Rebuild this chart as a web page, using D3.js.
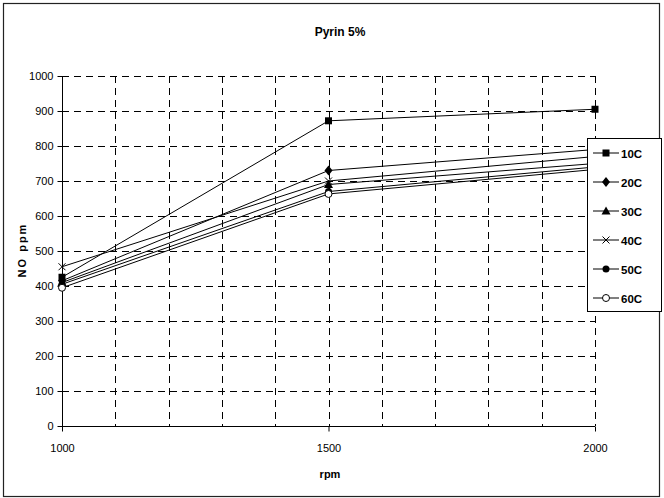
<!DOCTYPE html>
<html>
<head>
<meta charset="utf-8">
<script src="https://cdn.jsdelivr.net/npm/d3@7"></script>
<style>
  html, body { margin: 0; padding: 0; background: #fff; }
  svg { display: block; font-family: "Liberation Sans", Arial, sans-serif; }
</style>
</head>
<body>
<svg id="chart" width="664" height="498"></svg>
<script>
// NO emissions (ppm) versus engine speed, one series per temperature
const rpm = [1000, 1500, 2000];
const seriesNames = ["10C", "20C", "30C", "40C", "50C", "60C"];
const no10C = [425, 872, 905];
const no20C = [415, 730, 790];
const no30C = [410, 690, 750];
const no40C = [455, 700, 770];
const no50C = [405, 670, 740];
const no60C = [395, 663, 733];
const yTicks = [0, 100, 200, 300, 400, 500, 600, 700, 800, 900, 1000];
const xGrid = [1000, 1100, 1200, 1300, 1400, 1500, 1600, 1700, 1800, 1900, 2000];
const xLabels = [1000, 1500, 2000];
const markers = ["square", "diamond", "triangle", "cross", "dot", "ring"];

const FONT = "'Liberation Sans', Arial, sans-serif";

const series = seriesNames.map((name, i) => ({
  name,
  marker: markers[i],
  values: [no10C, no20C, no30C, no40C, no50C, no60C][i]
}));

const svg = d3.select("#chart");

// outer chart frame
svg.append("rect")
  .attr("x", 3.5).attr("y", 3.5).attr("width", 656).attr("height", 493)
  .attr("fill", "#fff").attr("stroke", "#222").attr("stroke-width", 1.2);

const plot = { left: 62, right: 595, top: 76, bottom: 426 };
const x = d3.scaleLinear().domain([1000, 2000]).range([plot.left, plot.right]);
const y = d3.scaleLinear().domain([0, 1000]).range([plot.bottom, plot.top]);

// dashed grid
const grid = svg.append("g").attr("stroke", "#000").attr("stroke-width", 1)
  .attr("stroke-dasharray", "7,5");
grid.selectAll("line.h").data(yTicks.filter(d => d > 0)).join("line")
  .attr("x1", plot.left).attr("x2", plot.right)
  .attr("y1", d => Math.round(y(d)) + 0.5).attr("y2", d => Math.round(y(d)) + 0.5);
grid.selectAll("line.v").data(xGrid.filter(d => d > 1000)).join("line")
  .attr("y1", plot.top).attr("y2", plot.bottom)
  .attr("x1", d => Math.round(x(d)) + 0.5).attr("x2", d => Math.round(x(d)) + 0.5);

// y axis
const yAxis = svg.append("g")
  .attr("transform", `translate(${plot.left + 0.5},0)`)
  .call(d3.axisLeft(y).tickValues(yTicks).tickSize(5).tickPadding(4).tickFormat(d3.format("d")));
yAxis.select(".domain").attr("stroke", "#000").attr("d", `M0,${plot.top}V${plot.bottom}`);
yAxis.selectAll(".tick line").attr("stroke", "#000").attr("x2", 5).attr("x1", -5);
yAxis.selectAll(".tick text").attr("font-size", 11).attr("fill", "#000").attr("font-family", FONT);

// x axis
const xAxis = svg.append("g")
  .attr("transform", `translate(0,${plot.bottom + 0.5})`)
  .call(d3.axisBottom(x).tickValues(xLabels).tickSize(5).tickPadding(13).tickFormat(d3.format("d")));
xAxis.select(".domain").attr("stroke", "#000").attr("d", `M${plot.left},0H${plot.right}`);
xAxis.selectAll(".tick line").attr("stroke", "#000");
xAxis.selectAll(".tick text").attr("font-size", 11).attr("fill", "#000").attr("font-family", FONT);

// titles
svg.append("text").attr("x", 340).attr("y", 36).attr("text-anchor", "middle")
  .attr("font-size", 12).attr("font-weight", "bold").text("Pyrin 5%");
svg.append("text").attr("x", 330).attr("y", 478).attr("text-anchor", "middle")
  .attr("font-size", 11).attr("font-weight", "bold").text("rpm");
svg.append("text").attr("transform", "translate(26,250) rotate(-90)")
  .attr("text-anchor", "middle").attr("font-size", 11).attr("font-weight", "bold")
  .attr("letter-spacing", 2).text("NO ppm");

// marker drawing
function drawMarker(g, type, size) {
  const s = size;
  switch (type) {
    case "square":
      g.append("rect").attr("x", -s).attr("y", -s).attr("width", 2 * s).attr("height", 2 * s).attr("fill", "#000");
      break;
    case "diamond":
      g.append("path").attr("d", `M0,${-s - 1.5}L${s + 0.5},0L0,${s + 1.5}L${-s - 0.5},0Z`).attr("fill", "#000");
      break;
    case "triangle":
      g.append("path").attr("d", `M0,${-s - 1}L${s + 1},${s}L${-s - 1},${s}Z`).attr("fill", "#000");
      break;
    case "cross":
      g.append("path").attr("d", `M${-s},${-s}L${s},${s}M${-s},${s}L${s},${-s}`)
        .attr("stroke", "#000").attr("stroke-width", 1).attr("fill", "none");
      break;
    case "dot":
      g.append("circle").attr("r", s).attr("fill", "#000");
      break;
    case "ring":
      g.append("circle").attr("r", s).attr("fill", "#fff").attr("stroke", "#000").attr("stroke-width", 1);
      break;
  }
}

// series lines and markers
const line = d3.line().x((d, i) => x(rpm[i])).y(d => y(d));
const seriesG = svg.append("g");
series.forEach(s => {
  seriesG.append("path").datum(s.values).attr("d", line)
    .attr("fill", "none").attr("stroke", "#000").attr("stroke-width", 1);
});
series.forEach(s => {
  s.values.forEach((v, i) => {
    const g = seriesG.append("g").attr("transform", `translate(${x(rpm[i])},${y(v)})`);
    drawMarker(g, s.marker, 3.5);
  });
});

// legend
const legend = svg.append("g");
legend.append("rect").attr("x", 587.5).attr("y", 138.5).attr("width", 74).attr("height", 173)
  .attr("fill", "#fff").attr("stroke", "#000").attr("stroke-width", 1);
series.forEach((s, i) => {
  const ly = 153 + i * 29;
  const g = legend.append("g").attr("transform", `translate(0,${ly})`);
  g.append("line").attr("x1", 593).attr("x2", 619).attr("y1", 0).attr("y2", 0)
    .attr("stroke", "#000").attr("stroke-width", 1);
  drawMarker(g.append("g").attr("transform", "translate(606,0)"), s.marker, 3.5);
  g.append("text").attr("x", 621).attr("y", 4.5).attr("font-size", 11.5).attr("font-weight", "bold")
    .text(s.name);
});
</script>
</body>
</html>
